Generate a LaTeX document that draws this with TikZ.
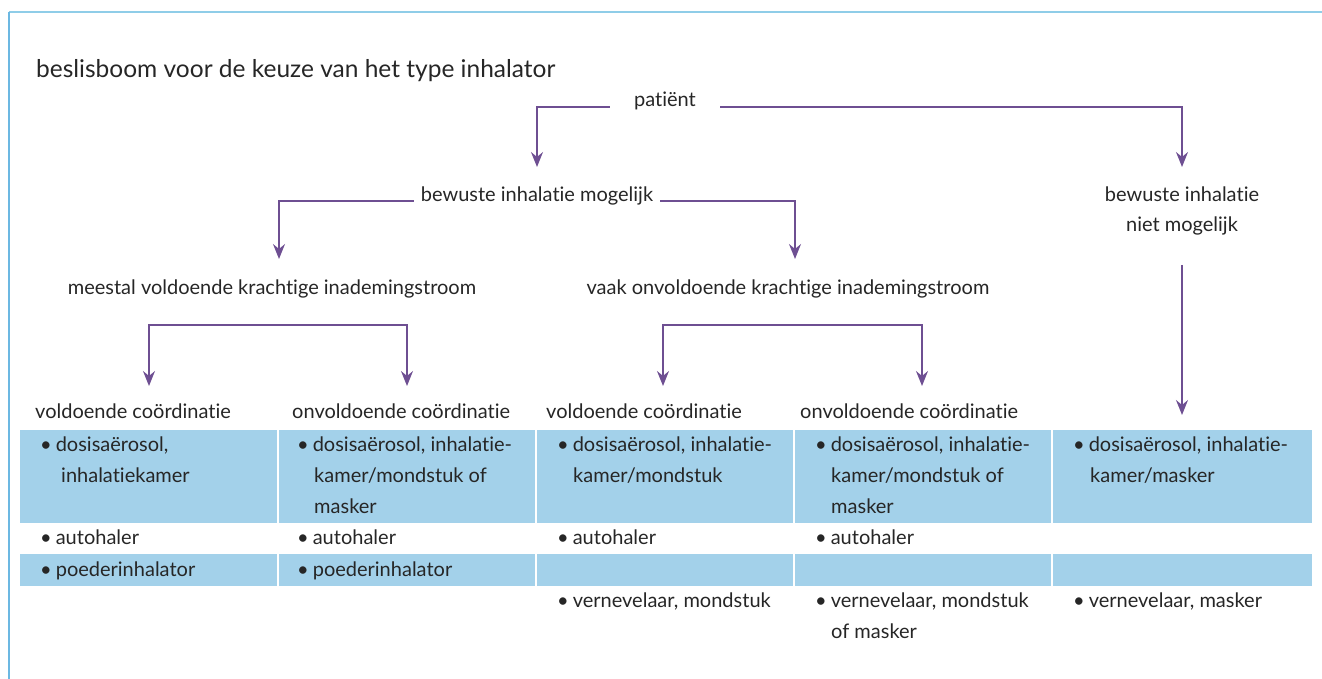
\documentclass[tikz,border=0pt]{standalone}
\usepackage{fontspec}
\setmainfont{Lato}[Ligatures={NoCommon}]
\usetikzlibrary{arrows.meta}
\definecolor{frameblue}{HTML}{8FCDE8}
\definecolor{frameleft}{HTML}{6CB8E2}
\definecolor{cellblue}{HTML}{A3D1EA}
\definecolor{arrowpurple}{HTML}{6E4F92}
\definecolor{txt}{HTML}{262626}
\tikzset{
  lbl/.style={font=\fontsize{20}{24}\selectfont, text=txt, inner sep=0pt, anchor=base},
  cell/.style={lbl, anchor=base west},
  titlelbl/.style={font=\fontsize{24.5}{28}\selectfont, text=txt, inner sep=0pt, anchor=base west},
  conn/.style={draw=arrowpurple, line width=1.5pt},
  arr/.style={conn, -{Stealth[length=15pt,width=12pt,inset=5pt]}},
  darr/.style={conn, {Stealth[length=15pt,width=12pt,inset=5pt]}-{Stealth[length=15pt,width=12pt,inset=5pt]}},
  bluecell/.style={fill=cellblue, draw=none}
}
\newcommand{\bul}{\textbullet\hspace{0.2em}}
\begin{document}
\begin{tikzpicture}[x=1pt,y=-1pt]
\useasboundingbox (0,0) rectangle (1322,679);
% frame
\draw[frameblue, line width=2pt] (9,12) -- (1322,12);
\draw[frameleft, line width=1.5pt] (9,12) -- (9,679);
% title
\node[titlelbl] (title) at (36,78) {beslisboom voor de keuze van het type inhalator};
% tree labels
\node[lbl, inner xsep=24pt] (pat) at (665,107) {patiënt};
\node[lbl, inner xsep=7pt] (bim) at (537,201) {bewuste inhalatie mogelijk};
\node[lbl] (bnm1) at (1182,201) {bewuste inhalatie};
\node[lbl] (bnm2) at (1182,232) {niet mogelijk};
\node[lbl] (mvk) at (272,294) {meestal voldoende krachtige inademingstroom};
\node[lbl] (vok) at (788,294) {vaak onvoldoende krachtige inademingstroom};
% arrow targets
\coordinate (t1) at (537,167);
\coordinate (t2) at (1182,167);
\coordinate (t3) at (279,259);
\coordinate (t4) at (795,259);
\coordinate (k1) at (149,325);
\coordinate (k2) at (407,325);
\coordinate (k3) at (663,325);
\coordinate (k4) at (922,325);
\coordinate (h1) at (149,386);
\coordinate (h2) at (407,386);
\coordinate (h3) at (663,386);
\coordinate (h4) at (922,386);
\coordinate (h5) at (1182,415);
% connectors
\draw[arr] (pat.base west) -| (t1);
\draw[arr] (pat.base east) -| (t2);
\draw[arr] (bim.base west) -| (t3);
\draw[arr] (bim.base east) -| (t4);
\draw[darr] (h1) -- (k1) -- (k2) -- (h2);
\draw[darr] (h3) -- (k3) -- (k4) -- (h4);
\draw[arr, shorten <=29pt] (bnm2.south) -- (h5);
% column headers
\node[cell] (hd1) at (35,418) {voldoende coördinatie};
\node[cell] (hd2) at (292,418) {onvoldoende coördinatie};
\node[cell] (hd3) at (546,418) {voldoende coördinatie};
\node[cell] (hd4) at (800,418) {onvoldoende coördinatie};
% blue cells
\foreach \a/\b in {20/277,279/535,537/793,795/1051,1053/1312}{
  \path[bluecell] (\a,430) rectangle (\b,523);
  \path[bluecell] (\a,554) rectangle (\b,586);
}
% column 1
\node[cell] (c1a) at (40,451) {\bul dosisaërosol,};
\node[cell] (c1b) at (61,482) {inhalatiekamer};
\node[cell] (c1c) at (40,544) {\bul autohaler};
\node[cell] (c1d) at (40,576) {\bul poederinhalator};
% column 2
\node[cell] (c2a) at (297,451) {\bul dosisaërosol, inhalatie-};
\node[cell] (c2b) at (314,482) {kamer/mondstuk of};
\node[cell] (c2c) at (314,513) {masker};
\node[cell] (c2d) at (297,544) {\bul autohaler};
\node[cell] (c2e) at (297,576) {\bul poederinhalator};
% column 3
\node[cell] (c3a) at (557,451) {\bul dosisaërosol, inhalatie-};
\node[cell] (c3b) at (573,482) {kamer/mondstuk};
\node[cell] (c3c) at (557,544) {\bul autohaler};
\node[cell] (c3d) at (557,607) {\bul vernevelaar, mondstuk};
% column 4
\node[cell] (c4a) at (815,451) {\bul dosisaërosol, inhalatie-};
\node[cell] (c4b) at (831,482) {kamer/mondstuk of};
\node[cell] (c4c) at (831,513) {masker};
\node[cell] (c4d) at (815,544) {\bul autohaler};
\node[cell] (c4e) at (815,607) {\bul vernevelaar, mondstuk};
\node[cell] (c4f) at (831,638) {of masker};
% column 5
\node[cell] (c5a) at (1073,451) {\bul dosisaërosol, inhalatie-};
\node[cell] (c5b) at (1090,482) {kamer/masker};
\node[cell] (c5c) at (1073,607) {\bul vernevelaar, masker};
\end{tikzpicture}
\end{document}
